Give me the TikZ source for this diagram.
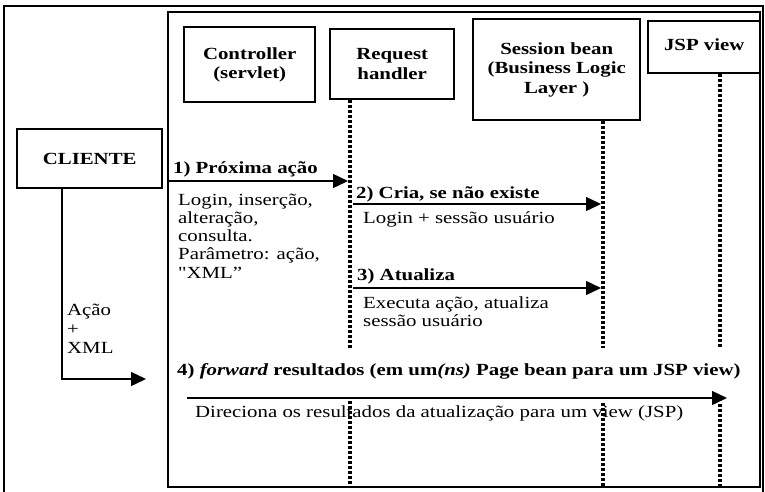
\documentclass[tikz,border=0pt]{standalone}
\usepackage{fontspec}
\setmainfont[FakeStretch=1.225]{Liberation Serif}
\newfontfamily\plainquote[FakeStretch=1.225]{Liberation Serif}
\usetikzlibrary{arrows.meta}
\begin{document}
\begin{tikzpicture}[x=1pt,y={(0pt,-1pt)},
  every node/.style={inner sep=0pt, font=\fontsize{17}{18.3}\selectfont},
  box/.style={draw, line width=2.4pt, anchor=north west, align=center,
    font=\fontsize{17}{19.5}\selectfont\bfseries},
  frame/.style={line width=2.2pt},
  life/.style={line width=3.2pt, dash pattern=on 3pt off 2pt},
  msg/.style={line width=1.4pt, -{Triangle[length=15pt,width=14pt]}},
  lbl/.style={anchor=base west, font=\fontsize{17}{18.3}\selectfont\bfseries},
  txt/.style={anchor=base west, align=left, font=\fontsize{17}{18.3}\selectfont},
]
\useasboundingbox (0,0) rectangle (765,491);
% frames
\draw[frame, line width=2pt] (4,500) -- (4,6) -- (763,6) -- (763,500);
\draw[frame] (168,12) rectangle (760,487);
% boxes
\node[box, minimum width=131pt, minimum height=75pt] (ctl) at (183,26) {Controller\\(servlet)};
\node[box, minimum width=124pt, minimum height=70pt] (rh) at (329,28) {Request\\handler};
\node[box, minimum width=167pt, minimum height=101pt] (sb) at (472,18) {Session bean\\(Business Logic\\Layer )};
\node[box, minimum width=112pt, minimum height=52pt] (jsp) at (647,20) {\raisebox{5pt}{JSP view}};
\node[box, minimum width=145pt, minimum height=59pt] (cli) at (16,128) {CLIENTE};
% lifelines
\coordinate (rhA) at (350,0 |- rh.south);
\coordinate (rhB) at (350,348);
\coordinate (rhC) at (350,401);
\coordinate (rhD) at (350,487);
\coordinate (sbA) at (603,0 |- sb.south);
\coordinate (sbB) at (603,348);
\coordinate (sbC) at (603,403);
\coordinate (sbD) at (603,487);
\coordinate (jsA) at (720,0 |- jsp.south);
\coordinate (jsB) at (720,348);
\coordinate (jsC) at (720,404);
\coordinate (jsD) at (720,487);
\draw[life] (rhA) -- (rhB) (rhC) -- (rhD);
\draw[life] (sbA) -- (sbB) (sbC) -- (sbD);
\draw[life] (jsA) -- (jsB) (jsC) -- (jsD);
% client arrow
\coordinate (cliS) at (62,0 |- cli.south);
\coordinate (cliC) at (62,379);
\coordinate (cliE) at (146,379);
\draw[msg] (cliS) -- (cliC) -- (cliE);
% multi-line nodes: base anchor sits on the last line
\node[txt, font=\fontsize{17}{19}\selectfont] (acao) at (67,353) {Ação\\+\\XML};
% message 1
\coordinate (m1s) at (168,181);
\coordinate (m1e) at (348,181);
\draw[msg] (m1s) -- (m1e);
\node[lbl] (l1) at (173,173) {1) Próxima ação};
\node[txt] (t1) at (178,278.2) {Login, inserção,\\alteração,\\consulta.\\Parâmetro: ação,\\{\plainquote"}XML”};
% message 2
\coordinate (m2s) at (353,204);
\coordinate (m2e) at (601,204);
\draw[msg] (m2s) -- (m2e);
\node[lbl] (l2) at (356,198) {2) Cria, se não existe};
\node[txt] (t2) at (363,223) {Login + sessão usuário};
% message 3
\coordinate (m3s) at (353,288);
\coordinate (m3e) at (601,288);
\draw[msg] (m3s) -- (m3e);
\node[lbl] (l3) at (357,280) {3) Atualiza};
\node[txt] (t3) at (363,326.3) {Executa ação, atualiza\\sessão usuário};
% message 4
\coordinate (m4s) at (187,398);
\coordinate (m4e) at (727,398);
\draw[msg] (m4s) -- (m4e);
\node[lbl] (l4) at (177,375) {4) \textit{forward} resultados (em um\textit{(ns)} Page bean para um JSP view)};
\node[txt] (t4) at (195,417) {Direciona os resultados da atualização para um view (JSP)};
\end{tikzpicture}
\end{document}
